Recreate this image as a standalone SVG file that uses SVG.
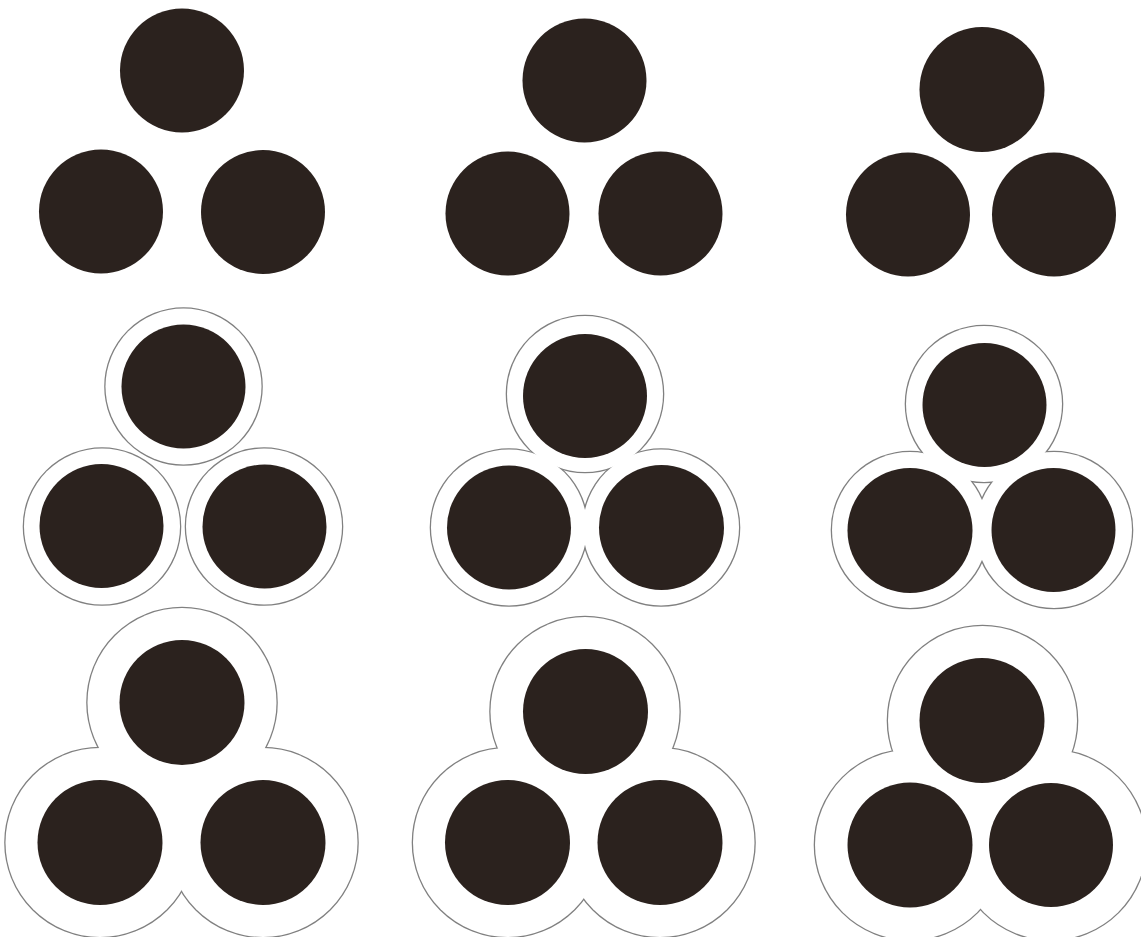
<svg xmlns="http://www.w3.org/2000/svg" width="1141" height="937" viewBox="0 0 1141 937">
<style>
.ink{fill:#2b221e}
.ring{fill:#fff;stroke:#808080;stroke-width:2.6}
.mask{fill:#fff;stroke:none}
</style>
<rect width="1141" height="937" fill="#fff"/>
<g id="r1c1">
<circle class="ink" cx="182" cy="70.5" r="62"/>
<circle class="ink" cx="101" cy="211.5" r="62"/>
<circle class="ink" cx="263" cy="212" r="62"/>
</g>
<g id="r1c2">
<circle class="ink" cx="584.5" cy="80.5" r="62"/>
<circle class="ink" cx="507.5" cy="213.5" r="62"/>
<circle class="ink" cx="660.5" cy="213.5" r="62"/>
</g>
<g id="r1c3">
<circle class="ink" cx="982" cy="89.5" r="62.5"/>
<circle class="ink" cx="908" cy="214.5" r="62"/>
<circle class="ink" cx="1054" cy="214.5" r="62"/>
</g>
<g id="r2c1">
<circle class="ring" cx="183.5" cy="386.5" r="78"/>
<circle class="ring" cx="102" cy="526.5" r="78"/>
<circle class="ring" cx="264" cy="526.5" r="78"/>
<circle class="mask" cx="183.5" cy="386.5" r="78"/>
<circle class="mask" cx="102" cy="526.5" r="78"/>
<circle class="mask" cx="264" cy="526.5" r="78"/>
<circle class="ink" cx="183.5" cy="386.5" r="62"/>
<circle class="ink" cx="101.5" cy="526" r="62"/>
<circle class="ink" cx="264.5" cy="526.5" r="62"/>
</g>
<g id="r2c2">
<circle class="ring" cx="585" cy="394" r="78"/>
<circle class="ring" cx="509" cy="527.5" r="78"/>
<circle class="ring" cx="661" cy="527.5" r="78"/>
<circle class="mask" cx="585" cy="394" r="78"/>
<circle class="mask" cx="509" cy="527.5" r="78"/>
<circle class="mask" cx="661" cy="527.5" r="78"/>
<circle class="ink" cx="585" cy="396" r="62"/>
<circle class="ink" cx="509" cy="527.5" r="62"/>
<circle class="ink" cx="661.5" cy="527.5" r="62.5"/>
</g>
<g id="r2c3">
<circle class="ring" cx="984" cy="404" r="78"/>
<circle class="ring" cx="910" cy="530" r="78"/>
<circle class="ring" cx="1054" cy="530" r="78"/>
<circle class="mask" cx="984" cy="404" r="78"/>
<circle class="mask" cx="910" cy="530" r="78"/>
<circle class="mask" cx="1054" cy="530" r="78"/>
<circle class="ink" cx="984.5" cy="405" r="62"/>
<circle class="ink" cx="910" cy="530.5" r="62.5"/>
<circle class="ink" cx="1053.5" cy="530" r="62"/>
</g>
<g id="r3c1">
<circle class="ring" cx="182" cy="702.5" r="94.5"/>
<circle class="ring" cx="100" cy="842.5" r="94.5"/>
<circle class="ring" cx="263" cy="842.5" r="94.5"/>
<circle class="mask" cx="182" cy="702.5" r="94.5"/>
<circle class="mask" cx="100" cy="842.5" r="94.5"/>
<circle class="mask" cx="263" cy="842.5" r="94.5"/>
<circle class="ink" cx="182" cy="702.5" r="62.5"/>
<circle class="ink" cx="100" cy="842.5" r="62.5"/>
<circle class="ink" cx="263" cy="842.5" r="62.5"/>
</g>
<g id="r3c2">
<circle class="ring" cx="585" cy="711.5" r="94.5"/>
<circle class="ring" cx="507.5" cy="842.5" r="94.5"/>
<circle class="ring" cx="660" cy="842.5" r="94.5"/>
<circle class="mask" cx="585" cy="711.5" r="94.5"/>
<circle class="mask" cx="507.5" cy="842.5" r="94.5"/>
<circle class="mask" cx="660" cy="842.5" r="94.5"/>
<circle class="ink" cx="585.5" cy="711.5" r="62.5"/>
<circle class="ink" cx="507.5" cy="842.5" r="62.5"/>
<circle class="ink" cx="660" cy="842.5" r="62.5"/>
</g>
<g id="r3c3">
<circle class="ring" cx="982.5" cy="720.5" r="94.5"/>
<circle class="ring" cx="910" cy="845" r="95"/>
<circle class="ring" cx="1051" cy="845" r="95"/>
<circle class="mask" cx="982.5" cy="720.5" r="94.5"/>
<circle class="mask" cx="910" cy="845" r="95"/>
<circle class="mask" cx="1051" cy="845" r="95"/>
<circle class="ink" cx="982" cy="720.5" r="62.5"/>
<circle class="ink" cx="910" cy="845" r="62.5"/>
<circle class="ink" cx="1051" cy="845" r="62"/>
</g>
<g id="connectors"/>
</svg>
